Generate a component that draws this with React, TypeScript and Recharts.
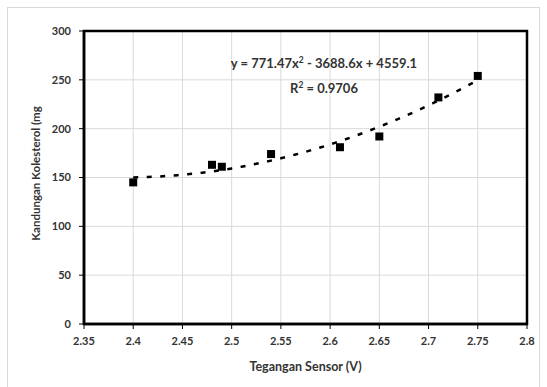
import React from 'react';
import { ScatterChart, Scatter, XAxis, YAxis, ZAxis, CartesianGrid, ReferenceArea, Label } from 'recharts';

// Measured data points
const voltage = [2.4, 2.48, 2.49, 2.54, 2.61, 2.65, 2.71, 2.75];
const cholesterol = [145, 163, 161, 174, 181, 192, 232, 254];

// Axis ticks
const xTicks = [2.35, 2.4, 2.45, 2.5, 2.55, 2.6, 2.65, 2.7, 2.75, 2.8];
const yTicks = [0, 50, 100, 150, 200, 250, 300];
const xMinorTicks = Array.from({ length: 46 }, (_, i) => Number((2.35 + i * 0.01).toFixed(2)));
const yMinorTicks = Array.from({ length: 31 }, (_, i) => i * 10);

// Polynomial trendline shown on the chart: y = a x^2 + b x + c
const trendA = 771.47;
const trendB = -3688.6;
const trendC = 4559.1;
const rSquared = '0.9706';
const trendStart = 2.4;
const trendEnd = 2.75;

const xTitle = 'Tegangan Sensor (V)';
const yTitle = 'Kandungan Kolesterol (mg';

const points = voltage.map((x, i) => ({ x, y: cholesterol[i] }));
const trend: { x: number; y: number }[] = [];
for (let i = 0; i <= 70; i++) {
  const x = trendStart + ((trendEnd - trendStart) * i) / 70;
  trend.push({ x, y: trendA * x * x + trendB * x + trendC });
}

const FONT = 'Lato, Carlito, "Liberation Sans", sans-serif';
const TEXT = '#333333';
const tickStyle = { fill: TEXT, fontSize: 11, fontWeight: 700, fontFamily: FONT };

const YLabel = (props: any) => {
  const vb = props.viewBox || { x: 0, y: 31, width: 84, height: 293 };
  const cx = vb.x + 35;
  const cy = vb.y + vb.height / 2 - 4;
  return (
    <text
      x={cx}
      y={cy}
      transform={`rotate(-90 ${cx} ${cy})`}
      textAnchor="middle"
      dominantBaseline="central"
      fill={TEXT}
      fontSize={11.5}
      fontWeight={700}
      fontFamily={FONT}
    >
      {yTitle}
    </text>
  );
};

const NoShape = () => <g />;

export default function App() {
  const sup = { fontSize: '0.65em', position: 'relative' as const, top: '-0.55em' };
  return (
    <div style={{ position: 'absolute', left: 0, top: 0, width: 547, height: 387, overflow: 'hidden', background: '#fff' }}>
      <div
        style={{
          position: 'absolute',
          left: 7,
          top: 7,
          width: 533,
          height: 400,
          border: '1px solid #d9d9d9',
          boxSizing: 'border-box',
        }}
      />
      <div style={{ position: 'absolute', left: 0, top: 0 }}>
        <ScatterChart width={547} height={387} margin={{ top: 31, right: 20, bottom: 33, left: 0 }}>
          <CartesianGrid stroke="#d9d9d9" strokeWidth={1} />
          <XAxis
            xAxisId="minor"
            type="number"
            dataKey="x"
            domain={[2.35, 2.8]}
            ticks={xMinorTicks}
            interval={0}
            height={0}
            axisLine={false}
            tick={false}
            tickSize={3}
            tickLine={{ stroke: '#000', strokeWidth: 1 }}
            allowDataOverflow
          />
          <YAxis
            yAxisId="minor"
            type="number"
            dataKey="y"
            domain={[0, 300]}
            ticks={yMinorTicks}
            interval={0}
            width={0}
            axisLine={false}
            tick={false}
            tickSize={3}
            tickLine={{ stroke: '#000', strokeWidth: 1 }}
            allowDataOverflow
          />
          <XAxis
            type="number"
            dataKey="x"
            domain={[2.35, 2.8]}
            ticks={xTicks}
            interval={0}
            height={30}
            allowDataOverflow
            axisLine={{ stroke: '#000', strokeWidth: 2.5 }}
            tickLine={{ stroke: '#000', strokeWidth: 1 }}
            tickSize={5}
            tickMargin={8}
            tick={tickStyle}
          >
            <Label
              value={xTitle}
              position="bottom"
              offset={8}
              fill={TEXT}
              fontSize={12.5}
              fontWeight={700}
              fontFamily={FONT}
            />
          </XAxis>
          <YAxis
            type="number"
            dataKey="y"
            domain={[0, 300]}
            ticks={yTicks}
            interval={0}
            width={84}
            allowDataOverflow
            axisLine={{ stroke: '#000', strokeWidth: 2.5 }}
            tickLine={{ stroke: '#000', strokeWidth: 1 }}
            tickSize={5}
            tickMargin={8}
            tick={tickStyle}
            label={<YLabel />}
          />
          <ZAxis range={[100, 100]} />
          <Scatter
            data={trend}
            shape={NoShape}
            line={{ stroke: '#000', strokeWidth: 2.5, strokeDasharray: '5 8.5' }}
            isAnimationActive={false}
          />
          <Scatter data={points} fill="#000" shape="square" isAnimationActive={false} />
          <ReferenceArea
            x1={2.35}
            x2={2.8}
            y1={0}
            y2={300}
            fill="none"
            stroke="#000"
            strokeWidth={2.5}
            ifOverflow="visible"
          />
        </ScatterChart>
      </div>
      <div
        style={{
          position: 'absolute',
          left: 194,
          top: 52,
          width: 260,
          textAlign: 'center',
          fontFamily: FONT,
          fontWeight: 700,
          fontSize: 13,
          color: TEXT,
          lineHeight: '23px',
          whiteSpace: 'nowrap',
        }}
      >
        <div>
          y = {trendA}x<span style={sup}>2</span> - {Math.abs(trendB)}x + {trendC}
        </div>
        <div>
          R<span style={sup}>2</span> = {rSquared}
        </div>
      </div>
    </div>
  );
}
